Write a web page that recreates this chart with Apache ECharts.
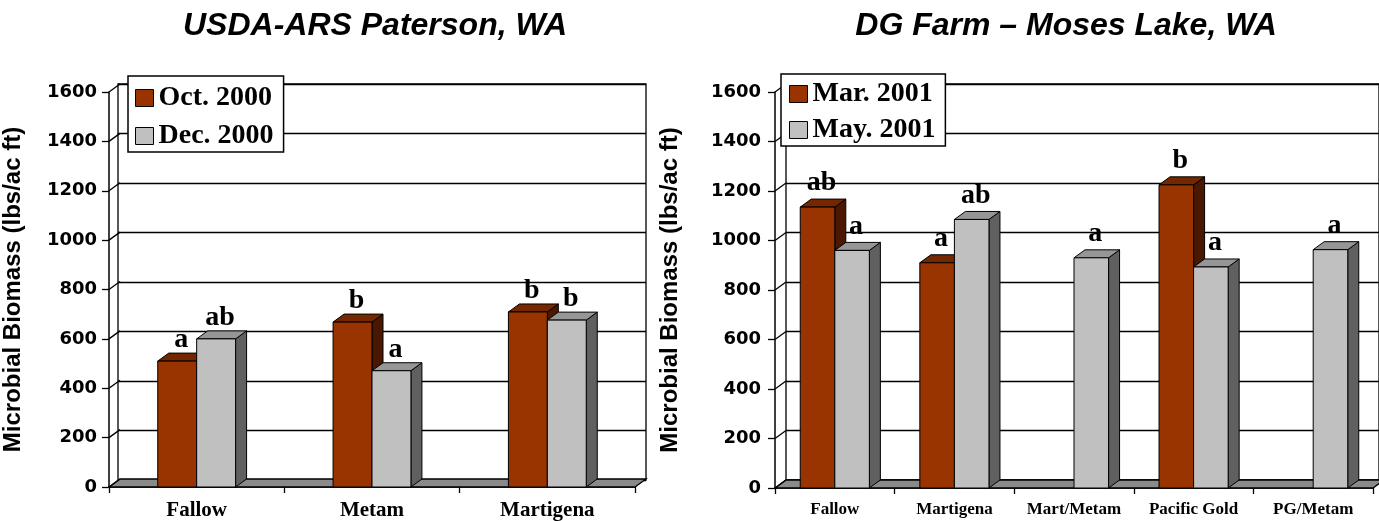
<!DOCTYPE html>
<html><head><meta charset="utf-8">
<script src="https://cdn.jsdelivr.net/npm/echarts@6/dist/echarts.min.js"></script>
<style>html,body{margin:0;padding:0;background:#fff}#c{width:1379px;height:521px}</style>
</head><body><div id="c"></div>
<script>
// ---- data ----
const leftTitle = 'USDA-ARS Paterson, WA';
const rightTitle = 'DG Farm \u2013 Moses Lake, WA';
const yAxisName = 'Microbial Biomass (lbs/ac ft)';
const yTicks = [0, 200, 400, 600, 800, 1000, 1200, 1400, 1600];

const leftCategories = ['Fallow', 'Metam', 'Martigena'];
const leftSeriesNames = ['Oct. 2000', 'Dec. 2000'];
const octValues = [510, 668, 709];
const decValues = [600, 471, 676];
const octLetters = ['a', 'b', 'b'];
const decLetters = ['ab', 'a', 'b'];

const rightCategories = ['Fallow', 'Martigena', 'Mart/Metam', 'Pacific Gold', 'PG/Metam'];
const rightSeriesNames = ['Mar. 2001', 'May. 2001'];
const marValues = [1135, 910, null, 1225, null];
const mayValues = [960, 1085, 930, 893, 963];
const marLetters = ['ab', 'a', '', 'b', ''];
const mayLetters = ['a', 'ab', 'a', 'a', 'a'];

// ---- style ----
const DX = 11, DY = -8;
const RED = { front: '#993300', top: '#742700', side: '#4a1800' };
const GRAY = { front: '#c0c0c0', top: '#969696', side: '#606060' };
const LW = 1.3;

function barRender(sideSign, shade, letters, letterFont, frac, gap) {
  return function (params, api) {
    const v = api.value(1);
    if (v == null || isNaN(v)) return;
    const idx = api.value(0);
    const top = api.coord([idx, v]);
    const base = api.coord([idx, 0]);
    const bw = api.size([1, 0])[0] * frac;
    const x0 = sideSign < 0 ? top[0] - bw : top[0];
    const x1 = x0 + bw;
    const yT = top[1], yB = base[1];
    const st = { stroke: '#000', lineWidth: 1 };
    const children = [
      { type: 'polygon', shape: { points: [[x1, yT], [x1 + DX, yT + DY], [x1 + DX, yB + DY], [x1, yB]] },
        style: Object.assign({ fill: shade.side }, st) },
      { type: 'polygon', shape: { points: [[x0, yT], [x1, yT], [x1 + DX, yT + DY], [x0 + DX, yT + DY]] },
        style: Object.assign({ fill: shade.top }, st) },
      { type: 'rect', shape: { x: x0, y: yT, width: bw, height: yB - yT },
        style: Object.assign({ fill: shade.front }, st) }
    ];
    const letter = letters[params.dataIndex];
    if (letter) {
      children.push({ type: 'text', x: (x0 + x1) / 2 + 4, y: yT - gap,
        style: { text: letter, font: letterFont, fill: '#000', align: 'center', verticalAlign: 'middle' } });
    }
    return { type: 'group', children };
  };
}

function frameRender(params, api) {
  const cs = params.coordSys;
  const y = api.coord([0, api.value(1)])[1];
  const children = [];
  if (params.dataIndex === 0) {
    children.push({ type: 'polygon',
      shape: { points: [[cs.x, y], [cs.x + cs.width, y], [cs.x + cs.width + DX, y + DY], [cs.x + DX, y + DY]] },
      style: { fill: '#8a8a8a', stroke: '#000', lineWidth: LW } });
  }
  children.push({ type: 'line', shape: { x1: cs.x, y1: y, x2: cs.x + DX, y2: y + DY },
    style: { stroke: '#000', lineWidth: LW } });
  return { type: 'group', children };
}

const grids = [
  { left: 107, top: 92, width: 528, height: 396 },
  { left: 107 + DX, top: 92 + DY, width: 528, height: 396, show: true, borderColor: '#000', borderWidth: LW, backgroundColor: 'transparent' },
  { left: 775, top: 92, width: 598, height: 396 },
  { left: 775 + DX, top: 92 + DY, width: 598, height: 396, show: true, borderColor: '#000', borderWidth: LW, backgroundColor: 'transparent' }
];

function frontX(gi, cats, fontSize, margin) {
  return { type: 'category', gridIndex: gi, data: cats, boundaryGap: true,
    axisLine: { show: true, lineStyle: { color: '#000', width: 1.5 } },
    axisTick: { show: true, length: 6, lineStyle: { color: '#000', width: LW } },
    axisLabel: { margin: margin, color: '#000', fontFamily: 'Liberation Serif', fontWeight: 'bold', fontSize: fontSize, interval: 0 },
    splitLine: { show: false } };
}
function backX(gi, cats) {
  return { type: 'category', gridIndex: gi, data: cats, show: false };
}
function frontY(gi, nameGap, margin) {
  return { type: 'value', gridIndex: gi, min: 0, max: 1600, interval: 200,
    name: yAxisName, nameLocation: 'middle', nameGap: nameGap,
    nameTextStyle: { fontFamily: 'Liberation Sans', fontWeight: 'bold', fontSize: 24, color: '#000' },
    axisLine: { show: true, lineStyle: { color: '#000', width: 1.5 } },
    axisTick: { show: true, length: 7, lineStyle: { color: '#000', width: LW } },
    axisLabel: { margin: margin, color: '#000', fontFamily: 'DejaVu Sans', fontWeight: 'bold', fontSize: 18,
      formatter: v => String(v) },
    splitLine: { show: false } };
}
function backY(gi) {
  return { type: 'value', gridIndex: gi, min: 0, max: 1600, interval: 200,
    axisLine: { show: false }, axisTick: { show: false }, axisLabel: { show: false },
    splitLine: { show: true, lineStyle: { color: '#000', width: LW } } };
}

function legendCfg(names, left, top, padding, gap) {
  return { data: names, orient: 'vertical', left: left, top: top, padding: padding, itemGap: gap,
    itemWidth: 18, itemHeight: 17, icon: 'rect', selectedMode: false,
    backgroundColor: '#fff', borderColor: '#000', borderWidth: 1.5,
    itemStyle: { borderColor: '#000', borderWidth: 1 },
    textStyle: { fontFamily: 'Liberation Serif', fontWeight: 'bold', fontSize: 28, color: '#000' } };
}

const letterFont = 'bold 28px "Liberation Serif"';

const option = {
  animation: false,
  backgroundColor: '#fff',
  title: [
    { text: leftTitle, left: 370, top: 5, textAlign: 'center',
      textStyle: { fontFamily: 'Liberation Sans', fontWeight: 'bold', fontStyle: 'italic', fontSize: 32, color: '#000' } },
    { text: rightTitle, left: 1061, top: 5, textAlign: 'center',
      textStyle: { fontFamily: 'Liberation Sans', fontWeight: 'bold', fontStyle: 'italic', fontSize: 32, color: '#000' } }
  ],
  legend: [
    legendCfg(leftSeriesNames, 128, 76, [8, 10, 2, 7], 10),
    legendCfg(rightSeriesNames, 781, 74, [6, 10, 2, 8], 8)
  ],
  grid: grids,
  xAxis: [frontX(0, leftCategories, 21, 13), backX(1, leftCategories), frontX(2, rightCategories, 17, 13), backX(3, rightCategories)],
  yAxis: [frontY(0, 84, 12), backY(1), frontY(2, 93, 14), backY(3)],
  series: [
    { type: 'custom', name: 'frameL', xAxisIndex: 0, yAxisIndex: 0, clip: false, silent: true,
      data: yTicks.map(v => [0, v]), renderItem: frameRender },
    { type: 'custom', name: leftSeriesNames[0], xAxisIndex: 0, yAxisIndex: 0, clip: false,
      itemStyle: { color: RED.front },
      data: octValues.map((v, i) => [i, v]), renderItem: barRender(-1, RED, octLetters, letterFont, 0.222, 21) },
    { type: 'custom', name: leftSeriesNames[1], xAxisIndex: 0, yAxisIndex: 0, clip: false,
      itemStyle: { color: GRAY.front },
      data: decValues.map((v, i) => [i, v]), renderItem: barRender(1, GRAY, decLetters, letterFont, 0.222, 21) },
    { type: 'custom', name: 'frameR', xAxisIndex: 2, yAxisIndex: 2, clip: false, silent: true,
      data: yTicks.map(v => [0, v]), renderItem: frameRender },
    { type: 'custom', name: rightSeriesNames[0], xAxisIndex: 2, yAxisIndex: 2, clip: false,
      itemStyle: { color: RED.front },
      data: marValues.map((v, i) => [i, v]), renderItem: barRender(-1, RED, marLetters, letterFont, 0.289, 24) },
    { type: 'custom', name: rightSeriesNames[1], xAxisIndex: 2, yAxisIndex: 2, clip: false,
      itemStyle: { color: GRAY.front },
      data: mayValues.map((v, i) => [i, v]), renderItem: barRender(1, GRAY, mayLetters, letterFont, 0.289, 24) }
  ]
};

const chart = echarts.init(document.getElementById('c'), null, { renderer: 'canvas' });
chart.setOption(option);
</script>
</body></html>
